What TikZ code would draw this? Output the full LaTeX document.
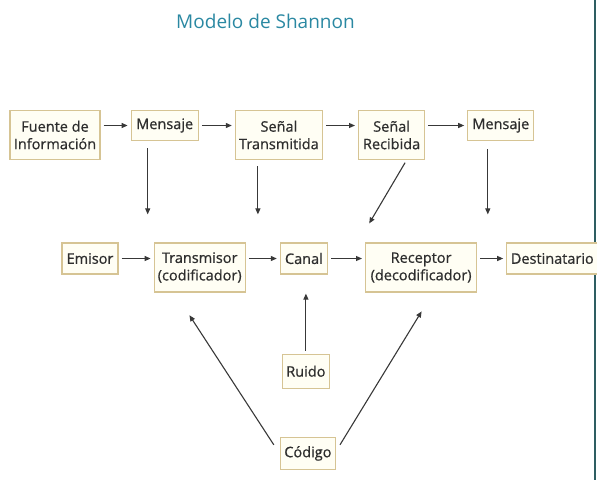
\documentclass[tikz,border=0pt]{standalone}
\usepackage{fontspec}
\setmainfont{Open Sans}
\newfontfamily\boxfont{Open Sans}[BoldFont={Open Sans},BoldFeatures={FakeBold=0.7}]
\usepackage{tikz}
\usetikzlibrary{arrows.meta,positioning}
\definecolor{boxline}{HTML}{D6C494}
\definecolor{boxfill}{HTML}{FFFEF4}
\definecolor{titleteal}{HTML}{2A88A2}
\definecolor{arrgray}{HTML}{383838}
\definecolor{edgeteal}{HTML}{2E5E62}

\begin{document}
\begin{tikzpicture}[x=1pt,y=-1pt,every node/.style={font=\boxfont\bfseries\fontsize{14.5}{17.5}\selectfont,text=black!82},
  blk/.style={draw=boxline,fill=boxfill,line width=1.2pt,align=center,inner sep=1pt,minimum height=31pt},
  tall/.style={blk,minimum height=49pt},
  arr/.style={draw=arrgray,line width=1.1pt,-{Triangle[length=6pt,width=5pt]},shorten <=3pt,shorten >=3pt}]
\useasboundingbox (0,0) rectangle (597,480);
\draw[edgeteal,line width=2pt] (595,0) -- (595,480);
\node[font=\normalfont\fontsize{19}{22}\selectfont,text=titleteal] (titulo) at (265.5,21) {Modelo de Shannon};
% fila superior
\node[tall,minimum width=90pt] (fuente) at (55,135) {Fuente de\\Información};
\node[blk,minimum width=67pt,minimum height=30pt,right=30pt of fuente.north east,anchor=north west] (msj1) {Mensaje};
\node[tall,minimum width=87pt,right=36pt of msj1.north east,anchor=north west] (senalT) {Señal\\Transmitida};
\node[tall,minimum width=66pt,right=35pt of senalT.north east,anchor=north west] (senalR) {Señal\\Recibida};
\node[blk,minimum width=66pt,minimum height=30pt,right=42pt of senalR.north east,anchor=north west] (msj2) {Mensaje};
\draw[arr] (fuente.east |- msj1) -- (msj1);
\draw[arr] (msj1) -- (msj1 -| senalT.west);
\draw[arr] (senalT.east |- msj1) -- (msj1 -| senalR.west);
\draw[arr] (senalR.east |- msj2) -- (msj2);
% fila central
\node[blk,minimum width=56pt] (emisor) at (90,258.5) {Emisor};
\node[tall,minimum width=91pt,right=35pt of emisor.north east,anchor=north west] (trans) {Transmisor\\(codificador)};
\node[blk,minimum width=47pt,right=34pt of trans.north east,anchor=north west] (canal) {Canal};
\node[tall,minimum width=111pt,right=37pt of canal.north east,anchor=north west] (receptor) {Receptor\\(decodificador)};
\node[blk,minimum width=91pt,right=29pt of receptor.north east,anchor=north west] (dest) {Destinatario};
\draw[arr] (emisor) -- (emisor -| trans.west);
\draw[arr] (trans.east |- canal) -- (canal);
\draw[arr] (canal) -- (canal -| receptor.west);
\draw[arr] (receptor.east |- dest) -- (dest);
% de arriba hacia abajo
\draw[arr,shorten <=7pt,shorten >=28pt] ([xshift=-17pt]msj1.south) -- ([xshift=-17pt]msj1.south |- trans.north);
\draw[arr,shorten <=6pt,shorten >=28pt] ([xshift=-21pt]senalT.south) -- ([xshift=-21pt]senalT.south |- trans.north);
\draw[arr,shorten >=22pt] ([xshift=15pt]senalR.south) -- ([xshift=-7pt]receptor.north west);
\draw[arr,shorten <=8pt,shorten >=28pt] ([xshift=-13pt]msj2.south) -- ([xshift=-13pt]msj2.south |- receptor.north);
% fila inferior
\node[blk,minimum width=47pt,minimum height=34pt,below=79pt of canal,xshift=2pt] (ruido) {Ruido};
\node[blk,minimum width=55pt,minimum height=32pt,below=48pt of ruido,xshift=2pt] (codigo) {Código};
\draw[arr,shorten >=19pt] (ruido.north) -- (ruido.north |- canal.south);
\draw[arr,shorten <=0pt,shorten >=27pt] ([xshift=-6pt,yshift=-8pt]codigo.north west) -- ([xshift=-25pt]trans.south);
\draw[arr,shorten <=0pt,shorten >=22pt] ([xshift=4pt,yshift=-8pt]codigo.north east) -- ([xshift=12pt]receptor.south);
\end{tikzpicture}
\end{document}
